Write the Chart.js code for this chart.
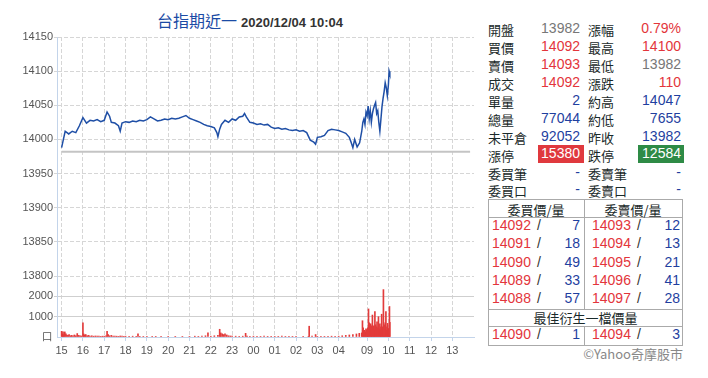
<!DOCTYPE html>
<html>
<head>
<meta charset="utf-8">
<script src="https://cdn.jsdelivr.net/npm/chart.js@4"></script>
<style>
  body { margin: 0; width: 708px; height: 378px; background: #fff; position: relative; overflow: hidden; }
  #title { position: absolute; left: 157px; top: 8px; height: 22px; line-height: 22px; white-space: nowrap; }
  #title .name { font: 16px "Noto Sans CJK TC", sans-serif; color: #1b4ba5; }
  #title .time { font: bold 13px "Liberation Sans", Arial, sans-serif; color: #333; margin-left: 4px; }
  #wrap { position: absolute; left: 0; top: 0; width: 480px; height: 378px; }
  .cell { position: absolute; height: 18px; line-height: 18px; white-space: nowrap; }
  .lbl { font: 13px "Noto Sans CJK TC", sans-serif; color: #1a2a2a; }
  .num { font: 14px "Liberation Sans", Arial, sans-serif; text-align: right; }
  .red { color: #e3353b; }
  .blue { color: #1f3f9f; }
  .grey { color: #777; }
  .hl { position: absolute; height: 1px; background: #aaa; }
  .vl { position: absolute; width: 1px; background: #aaa; }
</style>
</head>
<body>
<div id="title"><span class="name">台指期近一</span><span class="time">2020/12/04 10:04</span></div>
<div id="wrap"><canvas id="chart" width="480" height="378"></canvas></div>
<div id="quote"></div>
<script>
// 價格走勢 (夜盤 15:00-05:00, 日盤 08:45-13:45)
const priceTimes = [
  '15:00','15:05','15:10','15:20','15:30','15:40','15:50','16:00','16:10','16:20',
  '16:30','16:40','16:50','17:00','17:08','17:15','17:20','17:30','17:40','17:45',
  '17:50','18:00','18:10','18:20','18:30','18:40','18:50','19:00','19:10','19:20',
  '19:30','19:40','19:50','20:00','20:10','20:20','20:30','20:40','20:50','21:00',
  '21:10','21:20','21:30','21:40','21:50','22:00','22:10','22:17','22:20','22:25',
  '22:30','22:40','22:50','23:00','23:10','23:20','23:30','23:35','23:40','23:50',
  '00:00','00:10','00:20','00:30','00:40','00:50','01:00','01:10','01:20','01:30',
  '01:40','01:50','02:00','02:10','02:20','02:30','02:40','02:50','02:55','03:00',
  '03:10','03:20','03:30','03:40','03:50','04:00','04:10','04:20','04:30','04:35',
  '04:40','04:45','04:52','04:59',
  '08:45','08:48','08:51','08:54','08:57','09:00','09:03','09:06','09:09','09:12',
  '09:15','09:18','09:21','09:24','09:27','09:30','09:33','09:36','09:39','09:42',
  '09:45','09:48','09:51','09:54','09:57','10:00','10:02','10:04'
];
const priceValues = [
  13988,14000,14012,14008,14012,14010,14020,14032,14024,14028,
  14027,14029,14026,14028,14040,14034,14025,14024,14020,14012,
  14024,14026,14025,14027,14026,14028,14027,14029,14033,14030,
  14027,14028,14030,14029,14031,14030,14031,14033,14035,14031,
  14029,14027,14025,14022,14020,14019,14017,14010,14004,14015,
  14022,14028,14025,14030,14028,14033,14034,14038,14033,14025,
  14024,14022,14023,14021,14022,14018,14016,14017,14015,14016,
  14014,14013,14014,14012,14013,14010,13999,13996,13993,14003,
  14004,14006,14013,14015,14014,14013,14011,14009,14003,13996,
  13988,14000,13989,13995,
  14012,14025,14030,14022,14040,14035,14049,14030,14042,14025,
  14038,14045,14050,14054,14038,14042,14025,14012,14030,14048,
  14060,14070,14083,14076,14064,14080,14100,14096
];
const prevClose = 13982;

// 成交量
const volTimes = [
  '15:00','15:02','15:04','15:06','15:09','15:12','15:15','15:18','15:21','15:25',
  '15:28','15:32','15:36','15:40','15:44','15:48','15:52','15:56','16:00','16:02',
  '16:05','16:08','16:12','16:16','16:20','16:25','16:30','16:35','16:40','16:45',
  '16:50','16:55','17:00','17:05','17:08','17:11','17:15','17:20','17:25','17:30',
  '17:35','17:40','17:45','17:50','17:55','18:00','18:10','18:20','18:30','18:35',
  '18:40','18:50','19:00','19:15','19:25','19:40','20:00','20:20','20:40','21:00',
  '21:15','21:25','21:35','21:45','21:52','22:00','22:10','22:20','22:25','22:28',
  '22:32','22:36','22:40','22:45','22:50','22:55','23:00','23:10','23:20','23:30',
  '23:38','23:42','23:50','00:00','00:10','00:20','00:30','00:40','00:50','01:00',
  '01:10','01:20','01:30','01:40','01:50','02:00','02:20','02:35','02:37','02:45',
  '02:55','03:00','03:10','03:20','03:30','03:40','03:50','04:00','04:10','04:20',
  '04:30','04:40','04:50','04:58',
  '08:45','08:47','08:49','08:51','08:53','08:55','08:57','08:59','09:01','09:02',
  '09:04','09:06','09:08','09:10','09:12','09:13','09:15','09:17','09:19','09:20',
  '09:22','09:24','09:26','09:28','09:30','09:32','09:34','09:36','09:38','09:39',
  '09:41','09:43','09:45','09:46','09:48','09:49','09:51','09:53','09:55','09:56',
  '09:58','10:00','10:01','10:03','10:04'
];
const volValues = [
  280,150,260,120,250,150,100,80,120,60,
  80,60,100,60,170,80,60,50,700,150,
  100,120,60,80,50,60,40,50,40,50,
  30,40,40,60,280,120,60,80,40,50,
  40,30,50,40,30,40,30,40,30,150,
  30,20,30,20,30,20,20,30,20,30,
  40,30,40,60,200,40,60,80,380,200,
  150,120,150,100,60,50,40,40,30,40,
  180,50,30,40,30,20,40,30,20,30,
  20,40,20,30,20,30,20,30,530,40,
  120,30,20,30,20,40,30,40,60,80,
  100,120,150,180,
  200,800,450,300,330,250,400,350,300,450,
  1380,700,500,650,400,550,1080,450,550,350,
  1250,600,500,750,450,1000,400,650,350,500,
  1120,500,400,2330,600,330,700,1250,330,500,
  670,420,350,1500,720
];

// x 軸刻度
const tickLabels = ['15','16','17','18','19','20','21','22','23','00','01','02','03','04','09','10','11','12','13'];

// 報價資訊
const quoteLeftLabels = ['開盤','買價','賣價','成交','單量','總量','未平倉','漲停','委買筆','委買口'];
const quoteLeftValues = ['13982','14092','14093','14092','2','77044','92052','15380','-','-'];
const quoteLeftColors = ['grey','red','red','red','blue','blue','blue','','blue','blue'];
const quoteRightLabels = ['漲幅','最高','最低','漲跌','約高','約低','昨收','跌停','委賣筆','委賣口'];
const quoteRightValues = ['0.79%','14100','13982','110','14047','7655','13982','12584','-','-'];
const quoteRightColors = ['red','red','grey','red','blue','blue','blue','','blue','blue'];

// 五檔
const bidPrices = [14092, 14091, 14090, 14089, 14088];
const bidQty = [7, 18, 49, 33, 57];
const askPrices = [14093, 14094, 14095, 14096, 14097];
const askQty = [12, 13, 21, 41, 28];
const bestBid = [14090, 1];
const bestAsk = [14094, 3];

// 時間 -> 分鐘序號 (夜盤 0-840, 日盤從 845 起)
function toIndex(hhmm) {
  const [h, m] = hhmm.split(':').map(Number);
  const mins = h * 60 + m;
  if (mins >= 900) return mins - 900;
  if (mins <= 300) return mins + 540;
  return 845 + (mins - 525);
}

const tickMap = {};
tickLabels.forEach(l => { tickMap[toIndex(l + ':00')] = l; });

const axisFont = { family: '"Liberation Sans", Arial, sans-serif', size: 11 };
const axisBlue = '#c3d4ea';

function noPad(s) {
  s.paddingLeft = 0; s.paddingRight = 0; s.paddingTop = 0; s.paddingBottom = 0;
}

new Chart(document.getElementById('chart'), {
  type: 'line',
  data: {
    datasets: [{
      label: 'price',
      data: priceTimes.map((t, i) => ({ x: toIndex(t), y: priceValues[i] })),
      borderColor: '#1f4fa6',
      borderWidth: 1.5,
      pointRadius: 0,
      yAxisID: 'y',
      order: 1
    }, {
      label: 'prevClose',
      data: [{ x: 0, y: prevClose }, { x: 1150, y: prevClose }],
      borderColor: '#c4c4c4',
      borderWidth: 2,
      pointRadius: 0,
      yAxisID: 'y',
      order: 2
    }, {
      type: 'bar',
      label: 'volume',
      data: volTimes.map((t, i) => ({ x: toIndex(t), y: volValues[i] })),
      backgroundColor: '#e23b3b',
      barThickness: 1,
      borderWidth: 0,
      yAxisID: 'yv'
    }]
  },
  options: {
    responsive: false,
    animation: false,
    layout: { padding: { top: 37, right: 6, left: 0, bottom: 0 } },
    plugins: { legend: { display: false }, tooltip: { enabled: false } },
    scales: {
      x: {
        type: 'linear',
        offset: false,
        min: -13,
        max: 1161,
        afterBuildTicks: s => { s.ticks = Object.keys(tickMap).map(v => ({ value: Number(v) })); },
        afterFit: s => { s.height = 41; noPad(s); },
        ticks: {
          autoSkip: false,
          maxRotation: 0,
          padding: 3,
          font: axisFont,
          color: '#555',
          callback: v => tickMap[v]
        },
        grid: { offset: false, color: '#d6d6d6', tickColor: axisBlue, tickLength: 4 },
        border: { color: axisBlue, dash: [4, 2] }
      },
      yv: {
        position: 'left',
        stack: 'main',
        stackWeight: 61,
        min: 0,
        max: 3000,
        afterFit: s => { s.width = 57; noPad(s); },
        afterBuildTicks: s => { s.ticks = [0, 1000, 2000].map(v => ({ value: v })); },
        ticks: {
          padding: 1, font: axisFont, color: '#555',
          callback: v => v === 0 ? '口' : String(v)
        },
        grid: {
          color: c => c.tick && c.tick.value === 0 ? 'rgba(0,0,0,0)' : '#cfcfcf',
          tickLength: 3
        },
        border: { color: axisBlue }
      },
      y: {
        position: 'left',
        stack: 'main',
        stackWeight: 239,
        min: 13800,
        max: 14150,
        afterFit: s => { s.width = 57; noPad(s); },
        ticks: { stepSize: 50, padding: 1, font: axisFont, color: '#555', callback: v => String(v) },
        grid: { color: '#d6d6d6', tickLength: 3 },
        border: { color: axisBlue, dash: [4, 2] }
      }
    }
  }
});

// 右側報價表
const q = document.getElementById('quote');
function cell(text, left, top, width, cls, extra) {
  const d = document.createElement('div');
  d.className = 'cell ' + cls;
  d.style.left = left + 'px';
  d.style.top = top + 'px';
  if (width) d.style.width = width + 'px';
  if (extra) Object.assign(d.style, extra);
  d.textContent = text;
  q.appendChild(d);
  return d;
}
quoteLeftLabels.forEach((l, i) => {
  const top = 20.3 + 17.9 * i;
  cell(l, 488, top, 0, 'lbl');
  cell(quoteRightLabels[i], 588, top, 0, 'lbl');
  if (i === 7) {
    cell(quoteLeftValues[i], 538, top - 0.3, 46, 'num', { background: '#e0393e', color: '#fff', paddingRight: '4px', boxSizing: 'border-box' });
    cell(quoteRightValues[i], 638, top - 0.3, 46, 'num', { background: '#2e8b46', color: '#fff', paddingRight: '3px', boxSizing: 'border-box' });
  } else {
    cell(quoteLeftValues[i], 520, top, 60, 'num ' + quoteLeftColors[i]);
    cell(quoteRightValues[i], 621, top, 60, 'num ' + quoteRightColors[i]);
  }
});

// 五檔表格框線
function line(cls, left, top, len) {
  const d = document.createElement('div');
  d.className = cls;
  d.style.left = left + 'px';
  d.style.top = top + 'px';
  if (cls === 'hl') d.style.width = len + 'px'; else d.style.height = len + 'px';
  q.appendChild(d);
}
line('hl', 488, 199, 195);
line('hl', 488, 217, 195);
line('hl', 488, 309, 195);
line('hl', 488, 326, 195);
line('hl', 488, 345, 195);
line('vl', 488, 199, 147);
line('vl', 682, 199, 147);
line('vl', 584, 199, 110);
line('vl', 584, 326, 19);

cell('委買價/量', 488, 200, 96, 'lbl', { textAlign: 'center' });
cell('委賣價/量', 584, 200, 98, 'lbl', { textAlign: 'center' });
bidPrices.forEach((p, i) => {
  const top = 217 + 18.3 * i;
  cell(String(p), 492, top, 0, 'num red', { textAlign: 'left' });
  cell('/', 537, top, 0, 'num', { color: '#333', textAlign: 'left' });
  cell(String(bidQty[i]), 540, top, 40, 'num blue');
  cell(String(askPrices[i]), 592, top, 0, 'num red', { textAlign: 'left' });
  cell('/', 637, top, 0, 'num', { color: '#333', textAlign: 'left' });
  cell(String(askQty[i]), 640, top, 40, 'num blue');
});
cell('最佳衍生一檔價量', 488, 308, 195, 'lbl', { textAlign: 'center' });
cell(String(bestBid[0]), 492, 326, 0, 'num red', { textAlign: 'left' });
cell('/', 537, 326, 0, 'num', { color: '#333', textAlign: 'left' });
cell(String(bestBid[1]), 540, 326, 40, 'num blue');
cell(String(bestAsk[0]), 592, 326, 0, 'num red', { textAlign: 'left' });
cell('/', 637, 326, 0, 'num', { color: '#333', textAlign: 'left' });
cell(String(bestAsk[1]), 640, 326, 40, 'num blue');
cell('©Yahoo奇摩股市', 560, 344, 123, 'lbl', { textAlign: 'right', color: '#888' });
</script>
</body>
</html>
